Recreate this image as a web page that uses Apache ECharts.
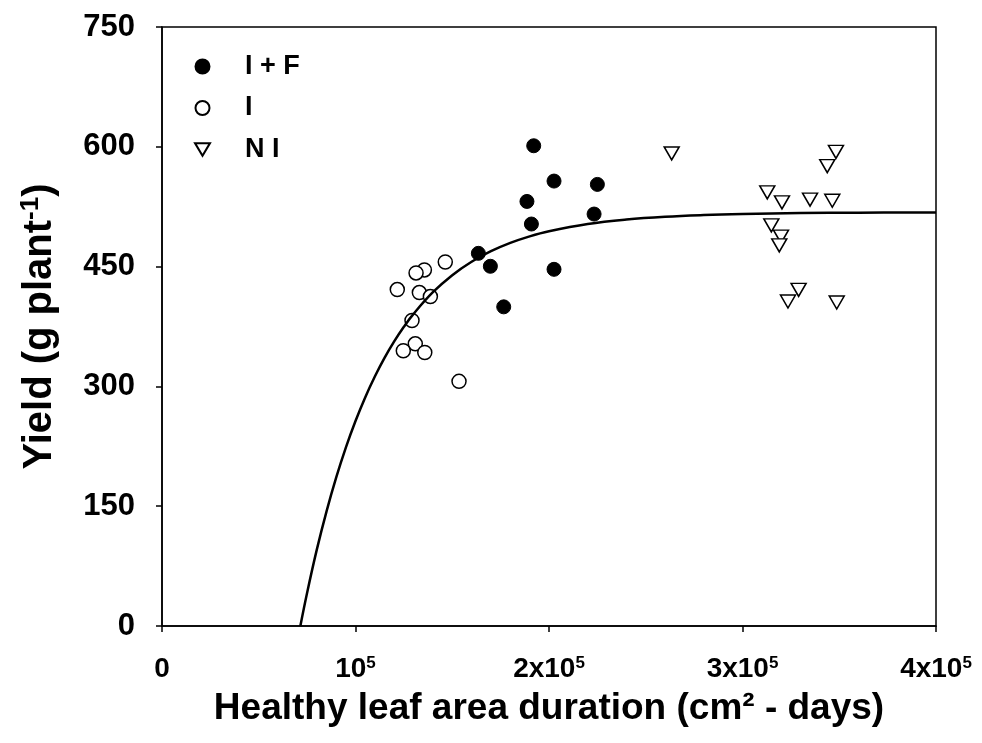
<!DOCTYPE html>
<html>
<head>
<meta charset="utf-8">
<script src="https://cdn.jsdelivr.net/npm/echarts@6/dist/echarts.min.js"></script>
<style>html,body{margin:0;padding:0;background:#fff}#c{width:982px;height:743px}</style>
</head>
<body>
<div id="c"></div>
<script>
// I + F (filled circles)
var ifX = [163500,169700,202600,176600,192100,202600,225000,188600,223300,190900];
var ifY = [466.6,450.4,446.6,399.6,601.3,557.1,552.9,531.6,515.8,503.3];
// I (open circles)
var iX = [135600,131300,146400,121600,133000,138700,129200,130900,124700,135800,153500];
var iY = [445.8,442.1,455.8,421.2,417.5,412.5,382.5,353.3,344.6,342.5,306.3];
// N I (open down triangles)
var niX = [263400,348300,343800,312800,320400,334900,346400,314900,319900,319000,329000,323500,348700];
var niY = [591.7,593.7,575.8,542.9,530.4,533.8,532.5,501.6,487.5,476.6,420.9,406.3,405.0];
// fitted curve
var fitX = [71500,75000,80000,85000,90000,95000,100000,105000,110000,115000,120000,125000,130000,140000,150000,160000,170000,180000,190000,200000,220000,240000,260000,280000,300000,330000,360000,400000];
var fitY = [0,41.7,95.6,143.3,185.7,223.3,256.6,286.2,312.4,335.7,356.3,374.6,390.8,417.9,439.3,456.1,469.3,479.7,487.9,494.3,503.3,508.9,512.4,514.5,515.8,517.0,517.5,517.8];
// tick labels
var xTickBase = ['0', '', '2x', '3x', '4x'];
var yTicks = [0,150,300,450,600,750];

function pairs(xs, ys){ return xs.map(function(x,i){ return [x, ys[i]]; }); }

var FONT = '"Liberation Sans", Arial, sans-serif';
var chart = echarts.init(document.getElementById('c'), null, {renderer:'canvas'});
chart.setOption({
  animation: false,
  backgroundColor: '#fff',
  grid: {left:162, right:46, top:27, bottom:117, show:true, borderColor:'#000', borderWidth:1.5, backgroundColor:'transparent'},
  legend: {
    orient:'vertical', left:189, top:48, itemGap:14.5, itemWidth:15, itemHeight:14,
    textStyle:{fontFamily:FONT, fontWeight:'bold', fontSize:27, color:'#000', lineHeight:26, padding:[0,0,0,30]},
    data:[{name:'I + F'},{name:'I'},{name:'N I', icon:'path://M0,0 L20,0 L10,17 Z'}]
  },
  xAxis: {
    type:'value', min:0, max:400000, interval:100000,
    splitLine:{show:false},
    axisLine:{lineStyle:{color:'#000', width:1.5}},
    axisTick:{length:6, lineStyle:{color:'#000', width:1.5}},
    axisLabel:{
      margin:29, color:'#000',
      formatter:function(v){ var i = Math.round(v/100000); if(i===0) return '{b|0}'; return '{b|' + xTickBase[i] + '10}{s|5}'; },
      rich:{
        b:{fontFamily:FONT, fontWeight:'bold', fontSize:28, lineHeight:28, color:'#000'},
        s:{fontFamily:FONT, fontWeight:'bold', fontSize:17, lineHeight:28, verticalAlign:'top', color:'#000'}
      }
    },
    name:'Healthy leaf area duration (cm² - days)', nameLocation:'middle', nameGap:64,
    nameTextStyle:{fontFamily:FONT, fontWeight:'bold', fontSize:37, color:'#000'}
  },
  yAxis: {
    type:'value', min:0, max:750, interval:150,
    splitLine:{show:false},
    axisLine:{show:true, lineStyle:{color:'#000', width:1.5}},
    axisTick:{show:true, length:6, lineStyle:{color:'#000', width:1.5}},
    axisLabel:{margin:27, color:'#000', fontFamily:FONT, fontWeight:'bold', fontSize:31},
    name:'{b|Yield (g plant}{s|-1}{b|)}', nameLocation:'middle', nameGap:100, nameRotate:90,
    nameTextStyle:{
      rich:{
        b:{fontFamily:FONT, fontWeight:'bold', fontSize:40, lineHeight:44, color:'#000'},
        s:{fontFamily:FONT, fontWeight:'bold', fontSize:26, lineHeight:44, verticalAlign:'top', color:'#000'}
      }
    }
  },
  series: [
    {name:'I + F', type:'scatter', data:pairs(ifX, ifY), symbol:'circle', symbolSize:14,
     itemStyle:{color:'#000', borderColor:'#000', borderWidth:1, opacity:1}, z:2},
    {name:'I', type:'scatter', data:pairs(iX, iY), symbol:'circle', symbolSize:14,
     itemStyle:{color:'#fff', borderColor:'#000', borderWidth:1.5, opacity:1}, z:2},
    {name:'N I', type:'scatter', data:pairs(niX, niY), symbol:'triangle', symbolRotate:180, symbolSize:[15,13],
     itemStyle:{color:'#fff', borderColor:'#000', borderWidth:1.5, opacity:1}, z:2},
    {name:'fit', type:'line', data:pairs(fitX, fitY), smooth:0.4, showSymbol:false, symbol:'none',
     lineStyle:{color:'#000', width:2.5}, z:5, silent:true}
  ]
});
</script>
</body>
</html>
